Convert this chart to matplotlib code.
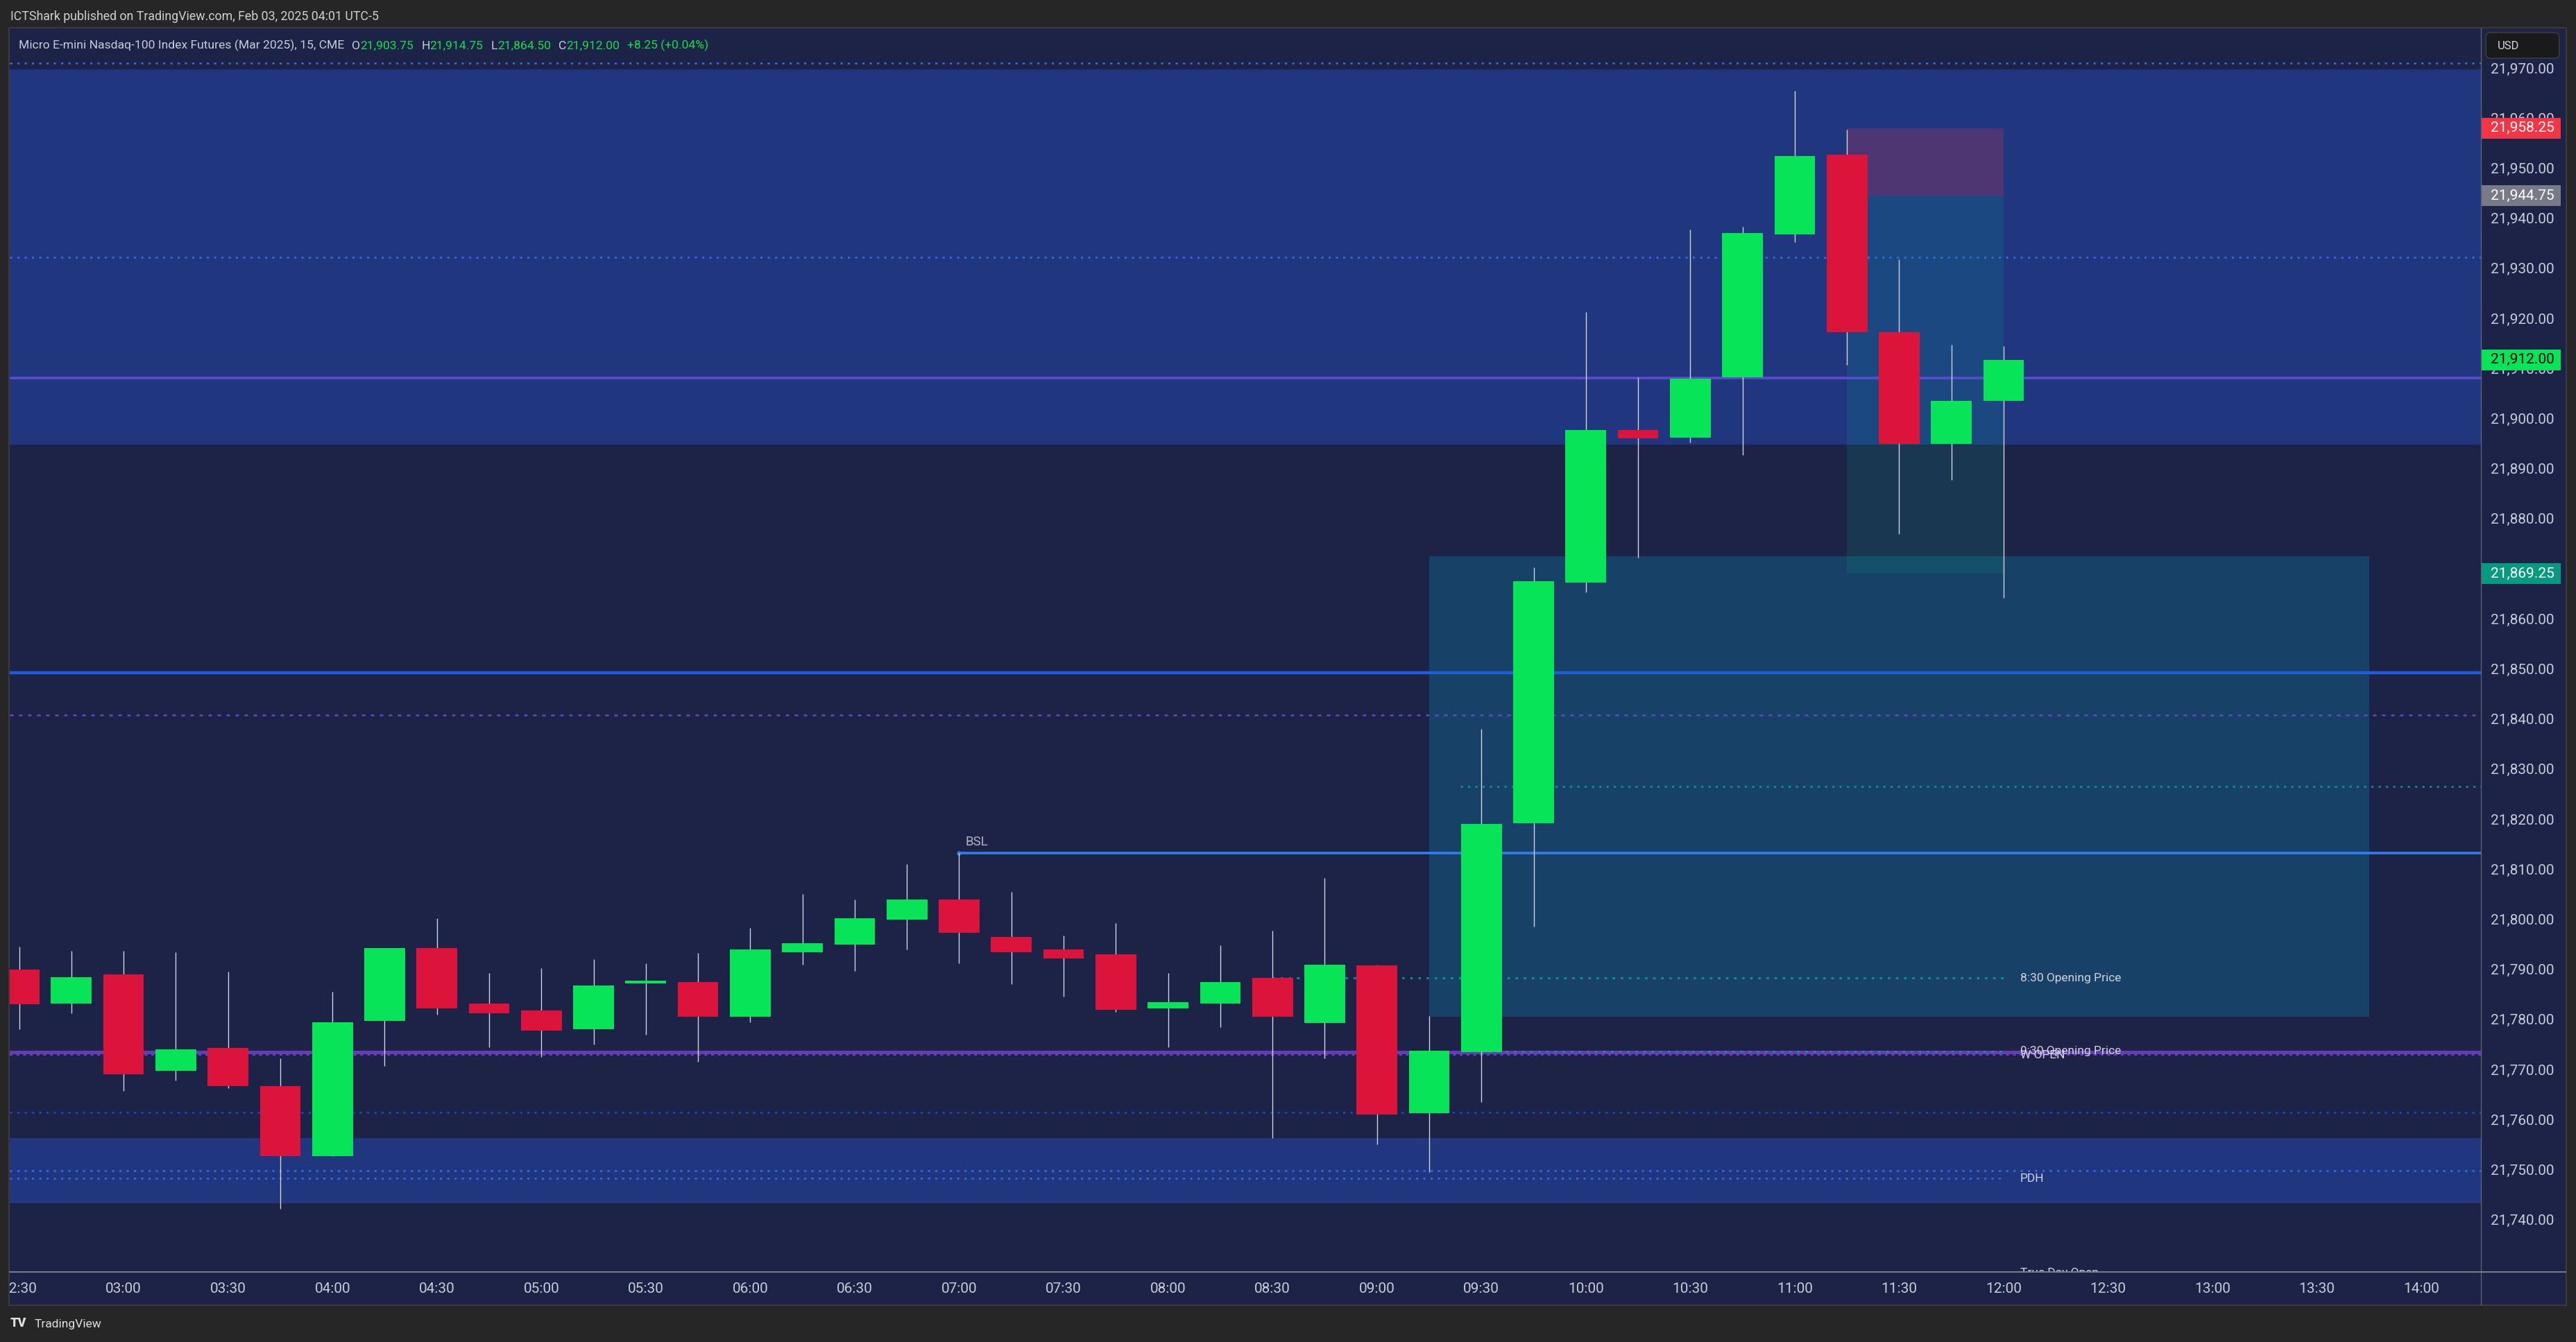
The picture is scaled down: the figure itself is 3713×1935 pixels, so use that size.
import matplotlib
matplotlib.use("Agg")
import matplotlib.pyplot as plt
from matplotlib.patches import Rectangle, FancyBboxPatch

# ---------------- data ----------------
times = ["02:30", "02:45", "03:00", "03:15", "03:30", "03:45", "04:00", "04:15",
         "04:30", "04:45", "05:00", "05:15", "05:30", "05:45", "06:00", "06:15",
         "06:30", "06:45", "07:00", "07:15", "07:30", "07:45", "08:00", "08:15",
         "08:30", "08:45", "09:00", "09:15", "09:30", "09:45", "10:00", "10:15",
         "10:30", "10:45", "11:00", "11:15", "11:30", "11:45", "12:00"]
opens = [21790.25, 21783.50, 21789.25, 21770.00, 21774.50, 21767.00, 21753.00, 21780.00,
         21794.50, 21783.50, 21782.00, 21778.25, 21787.50, 21787.75, 21780.75, 21793.75,
         21795.25, 21800.25, 21804.25, 21796.75, 21794.25, 21793.25, 21782.50, 21783.50,
         21788.50, 21779.50, 21791.00, 21761.50, 21773.75, 21819.50, 21867.50, 21898.00,
         21896.50, 21908.50, 21937.00, 21953.00, 21917.50, 21895.25, 21903.75]
highs = [21794.75, 21794.00, 21794.00, 21793.75, 21789.75, 21772.50, 21785.75, 21794.50,
         21800.50, 21789.50, 21790.50, 21792.25, 21791.50, 21793.50, 21798.50, 21805.25,
         21804.25, 21811.25, 21813.50, 21805.75, 21797.00, 21799.50, 21789.50, 21795.00,
         21798.00, 21808.50, 21791.25, 21781.00, 21838.25, 21870.50, 21921.50, 21908.50,
         21938.00, 21938.50, 21965.75, 21958.00, 21932.00, 21915.00, 21914.75]
lows = [21778.25, 21781.50, 21766.00, 21768.00, 21766.50, 21742.50, 21753.00, 21771.00,
        21781.25, 21774.75, 21772.75, 21775.25, 21777.25, 21771.75, 21779.75, 21791.25,
        21790.00, 21794.25, 21791.50, 21787.25, 21784.75, 21781.75, 21774.75, 21778.75,
        21756.50, 21772.50, 21755.25, 21749.75, 21763.75, 21798.75, 21865.50, 21872.50,
        21895.50, 21893.00, 21935.50, 21911.00, 21877.25, 21888.00, 21864.50]
closes = [21783.25, 21788.75, 21769.25, 21774.25, 21767.00, 21753.00, 21779.75, 21794.50,
          21782.50, 21781.50, 21778.00, 21787.00, 21788.00, 21780.75, 21794.25, 21795.50,
          21800.50, 21804.25, 21797.50, 21793.75, 21792.50, 21782.25, 21783.75, 21787.75,
          21780.75, 21791.25, 21761.25, 21774.00, 21819.25, 21867.75, 21898.00, 21896.25,
          21908.25, 21937.25, 21952.75, 21917.50, 21895.25, 21903.75, 21912.00]

axis_times = ["02:30", "03:00", "03:30", "04:00", "04:30", "05:00", "05:30", "06:00",
              "06:30", "07:00", "07:30", "08:00", "08:30", "09:00", "09:30", "10:00",
              "10:30", "11:00", "11:30", "12:00", "12:30", "13:00", "13:30", "14:00"]
price_ticks = [21740, 21750, 21760, 21770, 21780, 21790, 21800, 21810, 21820, 21830,
               21840, 21850, 21860, 21870, 21880, 21890, 21900, 21910, 21920, 21930,
               21940, 21950, 21960, 21970]

# zones and levels
premium_zone = (21895.0, 21970.0)
pdh_zone = (21743.5, 21756.5)
fvg_box = {"t0": "09:15", "t1": "13:45", "low": 21780.75, "high": 21872.75}
position = {"t0": "11:15", "t1": "12:00", "stop": 21958.25, "entry": 21944.75, "target": 21869.25}
band_mid_level = 21908.4
blue_level = 21849.5
w_open = 21773.75
bsl_level, bsl_start = 21813.5, "07:00"
open_830, open_930 = 21788.5, 21773.9
pdh_level = 21748.5
teal_level = 21826.75
dotted_blue_levels = [21971.25, 21932.5, 21750.0]
dotted_dark_blue = 21761.75
dotted_purple = 21841.0
current_price = 21912.0

title = "Micro E-mini Nasdaq-100 Index Futures (Mar 2025), 15, CME"
ohlc_names = ["O", "H", "L", "C"]
ohlc_values = ["21,903.75", "21,914.75", "21,864.50", "21,912.00"]
change_text = "+8.25 (+0.04%)"
watermark = "ICTShark published on TradingView.com, Feb 03, 2025 04:01 UTC-5"

# ---------------- style ----------------
W, H = 3713, 1935
OUTER = "#262626"
BG = "#1d2247"
BAND = "#203780"
BOX = "#174166"
GREEN = "#08e458"
RED = "#dc143c"
WICK = "#d1d4dc"
TXT = "#c9ccd6"
FONT = ["Roboto", "DejaVu Sans"]


def idx_of(t):
    h, m = map(int, t.split(":"))
    return (h * 60 + m - 150) / 15.0


PL, PR, PRR = 14, 3576, 3698
PT, PB, PBB = 41, 1834, 1881
XMIN, XMAX = -0.18, 47.14
YMIN, YMAX = 21729.83, 21978.17

fig = plt.figure(figsize=(W / 100, H / 100), dpi=100, facecolor=OUTER)

ax = fig.add_axes([PL / W, 1 - PB / H, (PR - PL) / W, (PB - PT) / H])
ax.set_facecolor(BG)
ax.set_xlim(XMIN, XMAX)
ax.set_ylim(YMIN, YMAX)
ax.set_xticks([])
ax.set_yticks([])
for s in ax.spines.values():
    s.set_visible(False)

# zones
ax.axhspan(*premium_zone, color=BAND, lw=0, zorder=0.5)
ax.axhspan(*pdh_zone, color=BAND, lw=0, zorder=0.5)
ax.add_patch(Rectangle((idx_of(fvg_box["t0"]), fvg_box["low"]),
                       idx_of(fvg_box["t1"]) - idx_of(fvg_box["t0"]),
                       fvg_box["high"] - fvg_box["low"], fc=BOX, lw=0, zorder=0.6))
px0 = idx_of(position["t0"])
pw = idx_of(position["t1"]) - px0
ax.add_patch(Rectangle((px0, position["entry"]), pw, position["stop"] - position["entry"],
                       fc="#f23645", alpha=0.22, lw=0, zorder=0.7))
ax.add_patch(Rectangle((px0, position["target"]), pw, position["entry"] - position["target"],
                       fc="#089981", alpha=0.18, lw=0, zorder=0.7))

dot = (0, (1.3, 2.9))
# full-width levels
ax.axhline(band_mid_level, color="#5a4bd2", lw=2.6, zorder=1.5)
ax.axhline(blue_level, color="#1e5ddc", lw=3.2, zorder=1.5)
ax.axhline(w_open - 0.5, color="#6a45c8", lw=1.4, ls=(0, (2, 3)), zorder=1.4)
ax.axhline(w_open, color="#673ab7", lw=3.6, zorder=1.5)
for lv in dotted_blue_levels:
    ax.axhline(lv, color="#2f6ff0", lw=1.8, ls=dot, zorder=1.2)
ax.axhline(dotted_dark_blue, color="#1f48d0", lw=1.8, ls=dot, zorder=1.2)
ax.axhline(dotted_purple, color="#6a45c8", lw=1.8, ls=(0, (2.0, 3.2)), zorder=1.2)
# partial levels
ax.hlines(bsl_level, idx_of(bsl_start), XMAX, color="#2f80ed", lw=2.6, zorder=1.6)
ax.plot([idx_of(bsl_start)], [bsl_level], "o", color="#2f80ed", ms=3.5, zorder=1.6)
ax.hlines(teal_level, 27.6, XMAX, color="#0a96a0", lw=1.8, ls=dot, zorder=1.2)
ax.hlines(open_830, idx_of("08:30"), idx_of("12:00"), color="#0a96a0", lw=2.0, ls=dot, zorder=1.3)
ax.hlines(open_930, idx_of("09:30"), idx_of("12:00"), color="#0a96a0", lw=2.0, ls=dot, zorder=1.6)
ax.hlines(pdh_level, XMIN, idx_of("12:00"), color="#2f6ff0", lw=1.8, ls=dot, zorder=1.2)

# candles
xs = [idx_of(t) for t in times]
cols = [GREEN if c >= o else RED for o, c in zip(opens, closes)]
bottoms = [min(o, c) for o, c in zip(opens, closes)]
heights = [max(abs(c - o), 0.35) for o, c in zip(opens, closes)]
ax.vlines(xs, lows, highs, color=WICK, lw=1.0, zorder=3)
ax.bar(xs, heights, bottom=bottoms, width=0.78, color=cols, lw=0, zorder=4)

# labels on chart
lab_x = idx_of("12:00") + 0.32
lkw = dict(fontsize=12.5, color="#d1d4dc", family=FONT, va="center", ha="left", zorder=5)
ax.text(idx_of(bsl_start) + 0.12, bsl_level + 1.0, "BSL", fontsize=13.5, color="#b2b5be",
        family=FONT, va="bottom", ha="left", zorder=5)
ax.text(lab_x, open_830, "8:30 Opening Price", **lkw)
ax.text(lab_x, w_open - 0.7, "W OPEN", **lkw)
ax.text(lab_x, open_930, "9:30 Opening Price", **lkw)
ax.text(lab_x, pdh_level, "PDH", **lkw)
ax.text(lab_x, 21730.7, "True Day Open", fontsize=12.5, color="#d1d4dc", family=FONT,
        va="top", ha="left", zorder=5, clip_on=True)

# ---------------- time axis ----------------
ax_t = fig.add_axes([PL / W, 1 - PBB / H, (PR - PL) / W, (PBB - PB) / H], sharex=ax)
ax_t.set_facecolor(BG)
ax_t.set_ylim(0, 1)
for s in ax_t.spines.values():
    s.set_visible(False)
for t in axis_times:
    ax_t.text(idx_of(t), 0.47, t, ha="center", va="center", fontsize=15, color=TXT,
              family=FONT, clip_on=True)
ax_t.set_xticks([])
ax_t.set_yticks([])

# ---------------- price axis ----------------
ax_p = fig.add_axes([PR / W, 1 - PB / H, (PRR - PR) / W, (PB - PT) / H], sharey=ax)
ax_p.set_facecolor(BG)
ax_p.set_xlim(0, 1)
for s in ax_p.spines.values():
    s.set_visible(False)
ax_p.tick_params(left=False, labelleft=False, bottom=False, labelbottom=False)
for v in price_ticks:
    ax_p.text(0.115, v, f"{v:,.2f}", va="center", ha="left", fontsize=15, color=TXT,
              family=FONT, zorder=2)
tags = [(position["stop"], "#f23645", "white"),
        (position["entry"], "#787b86", "white"),
        (current_price, GREEN, "black"),
        (position["target"], "#089981", "white")]
for v, fc, tc in tags:
    ax_p.add_patch(Rectangle((0, v - 2.08), 0.943, 4.16, fc=fc, lw=0, zorder=3))
    ax_p.text(0.115, v, f"{v:,.2f}", va="center", ha="left", fontsize=15, color=tc,
              family=FONT, zorder=4)

# ---------------- overlay (frame, header, logo) ----------------
ov = fig.add_axes([0, 0, 1, 1], zorder=10)
ov.set_xlim(0, W)
ov.set_ylim(H, 0)
ov.axis("off")
ov.patch.set_alpha(0)
ov.add_patch(Rectangle((PR, PB), PRR - PR, PBB - PB, fc=BG, lw=0, zorder=1))
ov.add_patch(Rectangle((PL - 1, PT - 1), PRR - PL + 2, PBB - PT + 2, fill=False,
                       ec="#3a3a3e", lw=1.5, zorder=2))
ov.plot([PR, PR], [PT, PBB], color="#60636e", lw=1.0, zorder=3)
ov.plot([PL, PRR], [PB, PB], color="#7b7e8a", lw=1.4, zorder=3)

ov.add_patch(FancyBboxPatch((3583, 47), 106, 37, boxstyle="round,pad=0,rounding_size=7",
                            fc="#1a1a1a", ec="#3c3c40", lw=1.2, zorder=4))
ov.text(3600, 66, "USD", fontsize=12, color="#d1d4dc", family=FONT, va="center", ha="left", zorder=5)

ov.text(15, 24, watermark, fontsize=12.8, color="#d0d0d0", family=FONT, va="center", ha="left")

prev = ov.text(27, 65, title, fontsize=12.6, color=TXT, family=FONT, va="center", ha="left")
parts = []
for n, v in zip(ohlc_names, ohlc_values):
    parts.append((n, TXT, 8))
    parts.append((v, "#12e04a", 0))
parts.append((change_text, "#12e04a", 8))
for s, col, gap in parts:
    prev = ov.annotate(s, xy=(1, 0), xycoords=prev, xytext=(gap, 0), textcoords="offset points",
                       va="bottom", ha="left", fontsize=12.6, color=col, family=FONT)

ov.text(15, 1908, "TV", fontsize=13, fontweight="heavy", color="#e0e0e0", family=FONT,
        va="center", ha="left")
ov.text(50, 1909, "TradingView", fontsize=12.5, color="#e0e0e0", family=FONT, va="center", ha="left")

fig.savefig("out.png", dpi=100, facecolor=OUTER)
